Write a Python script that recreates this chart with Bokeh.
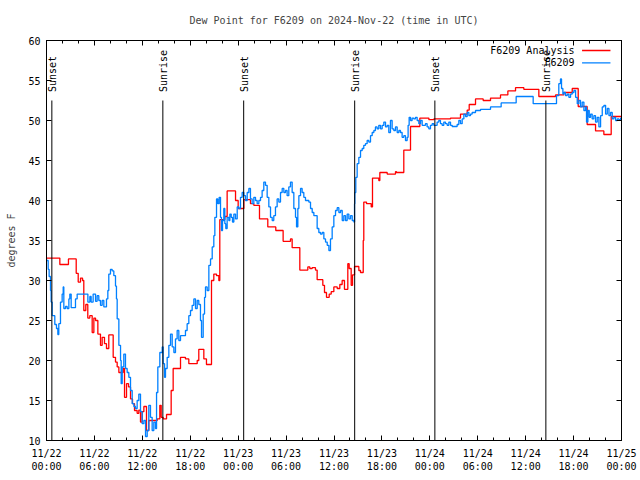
import numpy as np
from bokeh.plotting import figure
from bokeh.models import FixedTicker, LinearAxis, Range1d
from bokeh.core.properties import value
from bokeh.embed import file_html
from bokeh.resources import INLINE

TITLE = "Dew Point for F6209 on 2024-Nov-22 (time in UTC)"
Y_LABEL = "degrees F"
SERIES_NAMES = ["F6209 Analysis", "F6209"]

# hours since 2024-11-22 00:00 UTC
X_TICK_HOURS = [0, 6, 12, 18, 24, 30, 36, 42, 48, 54, 60, 66, 72]
X_TICK_LABELS = ["11/22\n00:00", "11/22\n06:00", "11/22\n12:00", "11/22\n18:00",
                 "11/23\n00:00", "11/23\n06:00", "11/23\n12:00", "11/23\n18:00",
                 "11/24\n00:00", "11/24\n06:00", "11/24\n12:00", "11/24\n18:00",
                 "11/25\n00:00"]
Y_TICKS = [10, 15, 20, 25, 30, 35, 40, 45, 50, 55, 60]

SUN_EVENT_HOURS = [0.67, 14.57, 24.69, 38.59, 48.63, 62.53]
SUN_EVENT_NAMES = ["Sunset", "Sunrise", "Sunset", "Sunrise", "Sunset", "Sunrise"]

ANALYSIS_HOURS = [0.0, 1.67, 2.75, 3.72, 3.97, 4.26, 4.51, 4.67, 4.92, 5.17, 5.42, 5.72,
                  5.93, 6.14, 6.43, 6.76, 6.97, 7.26, 7.51, 7.80, 8.35, 8.64, 8.85, 9.06,
                  9.60, 9.77, 10.02, 10.27, 10.52, 10.77, 11.02, 11.35, 11.56, 11.77, 11.98,
                  12.19, 12.52, 12.81, 13.86, 14.19, 14.36, 14.61, 15.03, 15.61, 15.86,
                  16.78, 17.40, 17.82, 18.87, 19.07, 19.70, 20.03, 20.66, 20.95, 21.29,
                  21.58, 21.70, 22.33, 22.62, 23.67, 24.00, 24.71, 25.54, 25.96, 26.67,
                  27.71, 28.71, 29.63, 30.55, 30.76, 31.72, 32.72, 32.97, 33.27, 33.68,
                  33.89, 34.60, 34.81, 35.06, 35.40, 35.65, 35.98, 36.40, 36.73, 37.02,
                  37.31, 37.73, 37.90, 38.15, 38.32, 38.57, 39.11, 39.32, 39.66, 39.73,
                  40.07, 40.66, 40.82, 41.61, 41.74, 42.66, 43.70, 43.83, 44.74, 45.58,
                  46.75, 47.88, 48.50, 50.59, 51.84, 52.68, 52.93, 53.72, 54.68, 55.60,
                  56.85, 57.77, 58.73, 59.77, 61.65, 63.74, 64.78, 65.83, 66.58, 67.70,
                  68.75, 69.79, 70.71, 72.0]
ANALYSIS_VALUES = [32.8, 32.0, 32.7, 30.9, 29.8, 30.3, 30.0, 26.25, 27.0, 25.3, 25.6, 23.5,
                   25.3, 25.0, 23.3, 21.9, 22.9, 22.1, 21.5, 23.2, 20.4, 19.8, 19.2, 18.5,
                   19.0, 15.4, 17.1, 16.7, 15.2, 14.6, 13.75, 13.4, 13.8, 12.3, 13.6,
                   14.25, 11.25, 12.5, 12.7, 14.4, 12.9, 12.7, 13.25, 16.25, 19.0,
                   20.4, 20.2, 19.6, 20.0, 21.4, 20.2, 19.5, 30.0, 30.8, 30.6,
                   30.0, 37.6, 38.0, 41.2, 40.0, 39.0, 40.1, 39.6, 39.4, 37.7,
                   36.7, 36.25, 34.9, 35.2, 34.1, 31.3, 31.7, 31.5, 31.6, 31.3,
                   30.1, 29.4, 28.5, 27.9, 28.3, 28.6, 29.2, 29.0, 29.5, 30.0,
                   28.9, 32.1, 31.5, 29.4, 30.7, 31.75, 31.25, 31.0, 35.0, 39.8,
                   39.6, 39.2, 42.8, 42.5, 43.5, 43.3, 43.6, 43.5, 46.3, 49.25,
                   50.3, 50.1, 50.2, 50.3, 50.8, 51.3, 52.0, 52.7, 52.5, 52.8,
                   53.2, 53.7, 54.1, 53.9, 53.0, 53.2, 53.5, 54.0, 51.75, 49.5,
                   48.7, 48.25, 50.5, 50.5]

OBS_HOURS = [0.0, 0.21, 0.33, 0.50, 0.58, 0.71, 1.04, 1.25, 1.42, 1.54, 1.75, 1.96, 2.09,
             2.17, 2.38, 2.59, 2.80, 2.92, 3.09, 3.63, 3.84, 5.18, 5.43, 5.59, 5.84, 6.14,
             6.34, 6.55, 6.76, 6.97, 7.18, 7.51, 7.68, 7.80, 8.01, 8.22, 8.43, 8.64, 8.76,
             8.85, 9.06, 9.27, 9.35, 9.48, 9.68, 9.89, 10.10, 10.31, 10.52, 10.73, 10.94,
             11.14, 11.35, 11.56, 11.77, 11.98, 12.19, 12.40, 12.61, 12.81, 13.02, 13.23,
             13.44, 13.65, 13.78, 13.94, 14.19, 14.49, 14.61, 14.78, 14.90, 15.11, 15.32,
             15.53, 15.74, 15.95, 16.15, 16.36, 16.57, 16.78, 17.40, 17.61, 17.82, 18.03,
             18.24, 18.45, 18.66, 18.87, 19.07, 19.28, 19.41, 19.62, 19.79, 19.91, 20.12,
             20.33, 20.54, 20.75, 20.95, 21.08, 21.29, 21.45, 21.62, 21.79, 21.91, 22.04,
             22.20, 22.33, 22.45, 22.62, 22.83, 22.96, 23.13, 23.29, 23.46, 23.67, 23.88,
             24.08, 24.29, 24.50, 24.71, 24.92, 25.13, 25.34, 25.54, 25.75, 25.96, 26.17,
             26.38, 26.59, 26.80, 27.00, 27.21, 27.42, 27.63, 27.84, 28.05, 28.26, 28.46,
             28.67, 28.88, 29.09, 29.30, 29.51, 29.72, 29.93, 30.13, 30.34, 30.55, 30.76,
             30.97, 31.18, 31.31, 31.47, 31.60, 31.81, 32.01, 32.22, 32.43, 32.85, 33.06,
             33.27, 33.48, 33.89, 34.10, 34.31, 34.52, 34.73, 34.94, 35.15, 35.36, 35.56,
             35.77, 35.98, 36.19, 36.40, 36.61, 36.82, 37.03, 37.23, 37.44, 37.65, 37.86,
             38.07, 38.28, 38.49, 38.57, 38.61, 38.73, 38.90, 39.11, 39.32, 39.53, 39.73,
             39.94, 40.15, 40.36, 40.57, 40.78, 40.99, 41.19, 41.40, 41.61, 41.82, 42.03,
             42.24, 42.45, 42.66, 42.86, 43.07, 43.28, 43.49, 43.70, 43.91, 44.12, 44.32,
             44.53, 44.74, 44.95, 45.16, 45.28, 45.41, 45.58, 45.78, 45.99, 46.20, 46.41,
             46.62, 46.83, 47.04, 47.25, 47.45, 47.66, 47.87, 48.08, 48.29, 48.50, 48.70,
             48.91, 49.12, 49.33, 49.54, 49.75, 49.96, 50.17, 50.38, 50.59, 50.80, 51.21,
             51.42, 51.63, 51.84, 52.05, 52.26, 52.47, 52.68, 52.89, 53.09, 53.30, 53.51,
             53.72, 54.35, 55.60, 56.93, 58.81, 60.94, 63.86, 64.15, 64.36, 64.49, 64.66,
             64.78, 64.99, 65.20, 65.41, 65.62, 65.83, 66.04, 66.25, 66.46, 66.66, 66.87,
             67.08, 67.29, 67.50, 67.62, 67.79, 67.96, 68.13, 68.33, 68.54, 68.75, 68.96,
             69.17, 69.38, 69.59, 69.80, 70.01, 70.22, 70.43, 70.63, 70.84, 71.05, 71.26,
             71.47, 71.68, 71.89, 72.0]
OBS_VALUES = [32.5, 31.4, 30.5, 28.75, 27.3, 25.6, 24.5, 24.0, 23.25, 24.6, 27.3, 28.3, 29.2,
              26.5, 26.75, 26.5, 27.7, 28.3, 26.6, 27.7, 28.3, 27.3, 28.0, 27.3, 28.3, 27.4,
              28.1, 27.5, 26.9, 27.5, 26.7, 27.7, 28.75, 30.8, 31.4, 31.2, 30.6, 29.3, 27.7,
              25.2, 21.9, 20.0, 17.1, 19.2, 20.8, 19.0, 18.5, 17.9, 16.25, 14.6, 14.25,
              14.0, 15.0, 15.8, 13.6, 12.1, 12.5, 10.5, 11.25, 14.4, 12.9, 11.25,
              12.3, 11.5, 16.0, 19.2, 21.0, 21.7, 19.6, 17.9, 19.0, 20.4, 21.9,
              23.3, 21.7, 21.0, 22.7, 23.75, 22.5, 23.1, 23.75, 24.6, 25.6, 26.25,
              26.9, 27.7, 26.5, 27.5, 27.0, 25.0, 22.9, 25.8, 27.9, 29.2, 28.75,
              31.9, 32.7, 34.2, 35.6, 37.9, 40.2, 39.6, 40.4, 37.9, 36.25, 37.5,
              39.0, 37.1, 36.5, 37.9, 37.5, 38.3, 37.9, 37.3, 38.3, 37.7, 39.2,
              39.0, 40.4, 41.0, 40.6, 40.0, 41.0, 41.5, 40.2, 39.6, 40.4, 40.0,
              39.6, 40.0, 40.4, 41.25, 42.3, 41.9, 40.4, 39.2, 37.9, 37.5, 38.1,
              39.2, 40.2, 39.8, 41.0, 41.5, 41.0, 41.25, 40.6, 41.7, 42.3, 41.0,
              39.0, 37.9, 36.7, 39.0, 40.6, 41.5, 41.0, 40.4, 40.0, 39.8, 39.0,
              38.5, 38.1, 36.5, 36.0, 35.8, 36.0, 35.2, 34.8, 34.4, 33.75, 35.2,
              36.7, 38.1, 38.75, 39.1, 38.5, 38.75, 37.5, 38.1, 37.5, 38.3, 37.7,
              38.1, 37.5, 37.3, 39.6, 41.0, 42.9, 44.6, 45.4, 46.25, 46.5, 46.9,
              47.1, 47.5, 47.3, 48.1, 48.5, 48.75, 49.2, 48.96, 49.4, 48.96, 49.4,
              49.8, 49.2, 49.4, 48.5, 50.0, 48.96, 48.75, 49.2, 48.5, 48.75, 48.5,
              47.9, 48.1, 47.5, 47.9, 49.4, 50.4, 50.0, 50.3, 50.2, 50.4, 50.0,
              49.6, 50.0, 49.4, 49.4, 49.6, 49.2, 48.96, 49.4, 49.6, 49.4, 49.4,
              49.8, 50.0, 49.6, 49.4, 49.8, 49.6, 49.4, 49.8, 49.4, 49.25, 49.25,
              49.5, 50.0, 49.6, 50.2, 50.8, 50.5, 51.0, 50.6, 50.8, 51.0, 51.0,
              51.25, 51.4, 51.7, 52.2, 53.0, 52.1, 53.1, 54.6, 55.2, 54.0, 53.3,
              53.5, 53.1, 53.3, 52.9, 53.3, 53.5, 53.75, 52.9, 52.1, 52.5, 51.7,
              52.3, 51.25, 51.7, 49.8, 51.25, 50.4, 50.8, 50.2, 50.6, 49.8, 50.4,
              49.2, 50.6, 51.7, 51.9, 50.8, 51.5, 50.6, 51.0, 50.2, 50.4, 50.0,
              50.2, 50.1, 50.3, 50.3]

FONT = "DejaVu Sans Mono"
RED = "#ff0000"
BLUE = "#0080ff"

X0, X1 = 0, 72
Y0, Y1 = 10, 60

p = figure(width=640, height=480, output_backend="svg", toolbar_location=None,
           x_range=Range1d(X0, X1), y_range=Range1d(Y0, Y1),
           min_border_left=46, min_border_right=19, min_border_top=40, min_border_bottom=40,
           title=TITLE)
p.title.align = "center"
p.title.vertical_align = "middle"
p.title.text_font = FONT
p.title.text_font_size = "10px"
p.title.text_font_style = "normal"
p.title.standoff = 27
p.outline_line_color = "black"
p.outline_line_width = 1
p.xgrid.visible = False
p.ygrid.visible = False
p.background_fill_color = "white"
p.border_fill_color = "white"

# data
p.step(ANALYSIS_HOURS, ANALYSIS_VALUES, mode="after", line_color=RED, line_width=1.3)
p.step(OBS_HOURS, OBS_VALUES, mode="after", line_color=BLUE, line_width=1.3)

# sunrise / sunset markers
line_top = 52.5
p.segment(x0=SUN_EVENT_HOURS, y0=[Y0] * len(SUN_EVENT_HOURS), x1=SUN_EVENT_HOURS,
          y1=[line_top] * len(SUN_EVENT_HOURS), line_color="black", line_width=1)
p.text(x=SUN_EVENT_HOURS, y=[line_top + 1.05] * len(SUN_EVENT_HOURS), text=SUN_EVENT_NAMES,
       angle=np.pi / 2, text_align="left", text_baseline="middle", x_offset=1,
       text_font=value(FONT), text_font_size="10px", text_color="black")

# legend (gnuplot style: text then sample on the right)
xs = X1 - X0
ys = Y1 - Y0
leg_text_x = X0 + xs * 0.9183
leg_x0 = X0 + xs * 0.9314
leg_x1 = X0 + xs * 0.9808
leg_y = [Y0 + ys * 0.975, Y0 + ys * 0.944]
p.text(x=[leg_text_x] * 2, y=leg_y, text=SERIES_NAMES, text_align="right",
       text_baseline="middle", text_font=value(FONT), text_font_size="10px",
       text_color="black")
p.segment(x0=[leg_x0] * 2, y0=leg_y, x1=[leg_x1] * 2, y1=leg_y,
          line_color=[RED, BLUE], line_width=1.3)

# axes
def style_axis(ax):
    ax.axis_line_color = "black"
    ax.major_tick_line_color = "black"
    ax.minor_tick_line_color = "black"
    ax.major_tick_in = 5
    ax.major_tick_out = 0
    ax.minor_tick_in = 3
    ax.minor_tick_out = 0
    ax.major_label_text_font = FONT
    ax.major_label_text_font_size = "10px"
    ax.major_label_text_color = "black"

xt = FixedTicker(ticks=X_TICK_HOURS, minor_ticks=list(range(X0, X1 + 1, 2)))
yt = FixedTicker(ticks=Y_TICKS, minor_ticks=[])

xa = p.xaxis[0]
xa.ticker = xt
style_axis(xa)
xa.major_label_overrides = {h: lab for h, lab in zip(X_TICK_HOURS, X_TICK_LABELS)}
xa.major_label_standoff = 7

ya = p.yaxis[0]
ya.ticker = yt
style_axis(ya)
ya.major_label_standoff = 6
ya.axis_label = Y_LABEL
ya.axis_label_text_font = FONT
ya.axis_label_text_font_size = "10px"
ya.axis_label_text_font_style = "normal"
ya.axis_label_standoff = 8

top = LinearAxis(ticker=xt)
style_axis(top)
top.major_label_overrides = {h: "" for h in X_TICK_HOURS}
top.major_label_standoff = 0
p.add_layout(top, "above")

right = LinearAxis(ticker=yt)
style_axis(right)
right.major_label_overrides = {v: "" for v in Y_TICKS}
right.major_label_standoff = 0
p.add_layout(right, "right")

open("out.html", "w").write(file_html(p, INLINE))
